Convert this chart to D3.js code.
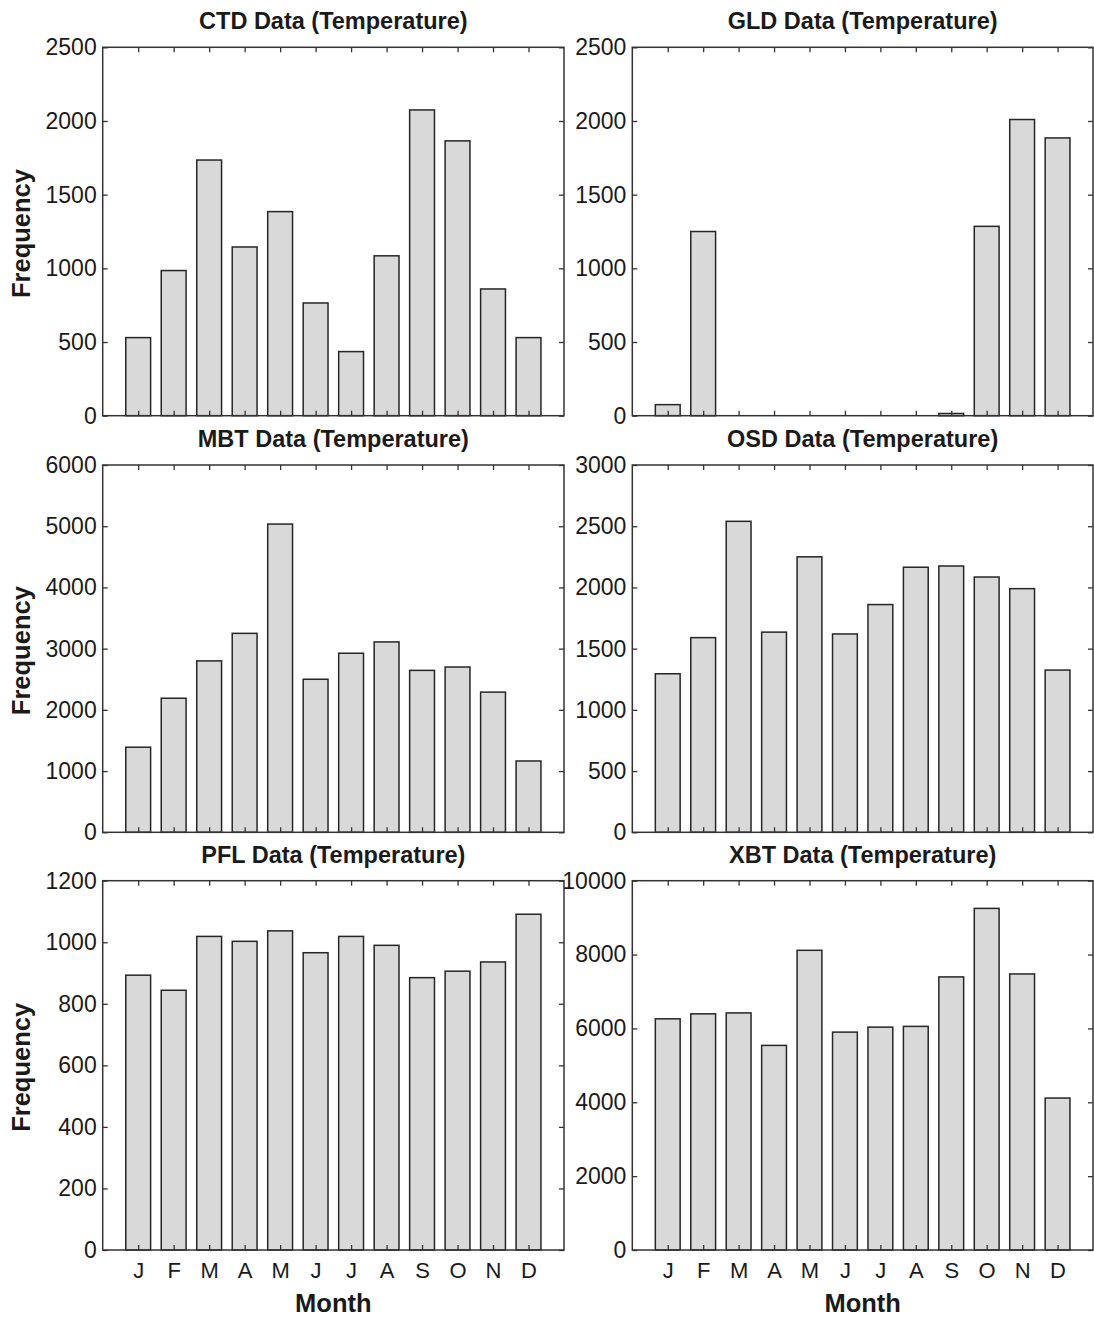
<!DOCTYPE html>
<html>
<head>
<meta charset="utf-8">
<script src="https://cdn.jsdelivr.net/npm/d3@7"></script>
<style>
  body { margin: 0; background: #fff; }
  svg { display: block; }
  text { font-family: "Liberation Sans", Arial, Helvetica, sans-serif; fill: #1a1a1a; }
</style>
</head>
<body>
<svg id="chart" width="1094" height="1318"></svg>
<script>
// Monthly observation counts (temperature profiles) per instrument type
const months = ["J", "F", "M", "A", "M", "J", "J", "A", "S", "O", "N", "D"];

const ctdCounts = [530, 985, 1735, 1145, 1385, 765, 435, 1085, 2075, 1865, 860, 530];
const gldCounts = [75, 1250, 0, 0, 0, 0, 0, 0, 15, 1285, 2010, 1885];
const mbtCounts = [1390, 2190, 2800, 3250, 5035, 2500, 2925, 3110, 2645, 2700, 2290, 1165];
const osdCounts = [1295, 1590, 2540, 1635, 2250, 1620, 1860, 2165, 2175, 2085, 1990, 1325];
const pflCounts = [893, 844, 1019, 1003, 1037, 966, 1019, 990, 885, 906, 936, 1091];
const xbtCounts = [6260, 6395, 6420, 5540, 8115, 5900, 6035, 6055, 7395, 9250, 7475, 4115];

const ctdTicks = [0, 500, 1000, 1500, 2000, 2500];
const gldTicks = [0, 500, 1000, 1500, 2000, 2500];
const mbtTicks = [0, 1000, 2000, 3000, 4000, 5000, 6000];
const osdTicks = [0, 500, 1000, 1500, 2000, 2500, 3000];
const pflTicks = [0, 200, 400, 600, 800, 1000, 1200];
const xbtTicks = [0, 2000, 4000, 6000, 8000, 10000];

const titles = ["CTD Data (Temperature)", "GLD Data (Temperature)",
                "MBT Data (Temperature)", "OSD Data (Temperature)",
                "PFL Data (Temperature)", "XBT Data (Temperature)"];

const panels = [
  { title: titles[0], values: ctdCounts, ticks: ctdTicks, col: 0, row: 0 },
  { title: titles[1], values: gldCounts, ticks: gldTicks, col: 1, row: 0 },
  { title: titles[2], values: mbtCounts, ticks: mbtTicks, col: 0, row: 1 },
  { title: titles[3], values: osdCounts, ticks: osdTicks, col: 1, row: 1 },
  { title: titles[4], values: pflCounts, ticks: pflTicks, col: 0, row: 2 },
  { title: titles[5], values: xbtCounts, ticks: xbtTicks, col: 1, row: 2 }
];

// Plot-box geometry
const colX = [[102.7, 564], [632.3, 1093]];
const rowY = [[47.3, 415.7], [465, 832.3], [880.7, 1250]];
const barWidth = 0.7;
const tickLen = 5;

const svg = d3.select("#chart");

panels.forEach(p => {
  const [x0, x1] = colX[p.col];
  const [y0, y1] = rowY[p.row];
  const x = d3.scaleLinear().domain([0, 13]).range([x0, x1]);
  const y = d3.scaleLinear().domain([0, d3.max(p.ticks)]).range([y1, y0]);
  const g = svg.append("g");
  const isBottom = p.row === 2;

  // bars
  g.selectAll("rect.bar")
    .data(p.values)
    .join("rect")
    .attr("class", "bar")
    .attr("x", (d, i) => x(i + 1 - barWidth / 2))
    .attr("width", x(barWidth) - x(0))
    .attr("y", d => y(d))
    .attr("height", d => y(0) - y(d))
    .attr("fill", "#d9d9d9")
    .attr("stroke", "#262626")
    .attr("stroke-width", 1.5);

  const monthPos = d3.range(1, 13);

  // left axis with labels
  const left = g.append("g")
    .attr("transform", `translate(${x0},0)`)
    .call(d3.axisLeft(y).tickValues(p.ticks).tickSizeInner(-tickLen).tickSizeOuter(0).tickPadding(6).tickFormat(d3.format("d")));
  left.selectAll("text").attr("font-size", 23).attr("fill", "#1a1a1a");

  // right axis (ticks only)
  g.append("g")
    .attr("transform", `translate(${x1},0)`)
    .call(d3.axisRight(y).tickValues(p.ticks).tickSizeInner(-tickLen).tickSizeOuter(0).tickFormat(""));

  // top axis (ticks only)
  g.append("g")
    .attr("transform", `translate(0,${y0})`)
    .call(d3.axisTop(x).tickValues(monthPos).tickSizeInner(-tickLen).tickSizeOuter(0).tickFormat(""));

  // bottom axis; month letters only on the lowest row
  const bottom = g.append("g")
    .attr("transform", `translate(0,${y1})`)
    .call(d3.axisBottom(x).tickValues(monthPos).tickSizeInner(-tickLen).tickSizeOuter(0).tickPadding(12)
      .tickFormat(isBottom ? (d => months[d - 1]) : ""));
  bottom.selectAll("text").attr("font-size", 22).attr("fill", "#1a1a1a");

  g.selectAll(".domain").remove();
  g.selectAll(".tick line").attr("stroke", "#333").attr("stroke-width", 1.3);

  // plot frame
  g.append("rect")
    .attr("x", x0).attr("y", y0)
    .attr("width", x1 - x0).attr("height", y1 - y0)
    .attr("fill", "none").attr("stroke", "#333").attr("stroke-width", 1.5);

  // title
  g.append("text")
    .attr("x", (x0 + x1) / 2).attr("y", y0 - 18)
    .attr("text-anchor", "middle")
    .attr("font-size", 23.5).attr("font-weight", "bold")
    .text(p.title);

  if (p.col === 0) {
    g.append("text")
      .attr("transform", `translate(30,${(y0 + y1) / 2 + 2}) rotate(-90)`)
      .attr("text-anchor", "middle")
      .attr("font-size", 25.5).attr("font-weight", "bold")
      .text("Frequency");
  }
  if (isBottom) {
    g.append("text")
      .attr("x", (x0 + x1) / 2).attr("y", 1312)
      .attr("text-anchor", "middle")
      .attr("font-size", 25.5).attr("font-weight", "bold")
      .text("Month");
  }
});
</script>
</body>
</html>
